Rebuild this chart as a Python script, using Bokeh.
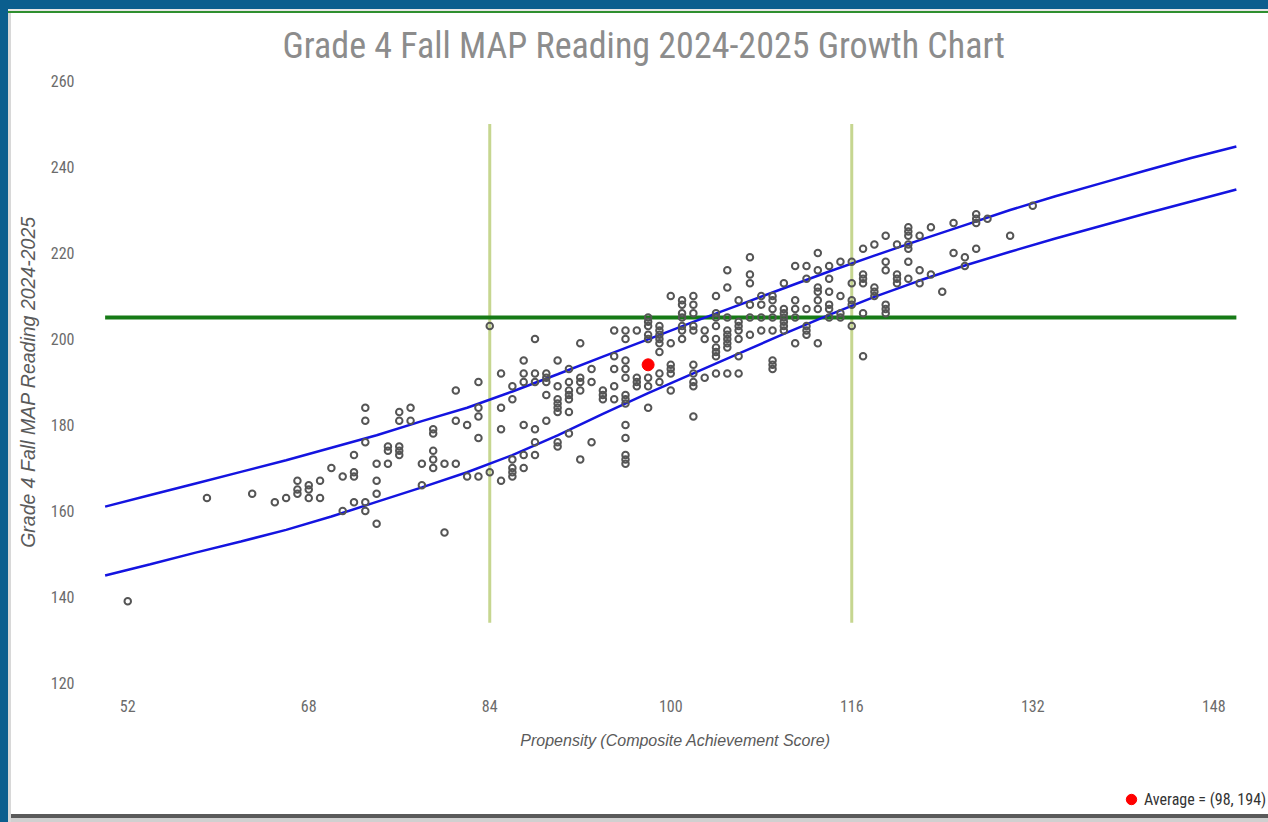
from bokeh.plotting import figure
from bokeh.models import Range1d, FixedTicker, Legend, LegendItem
from bokeh.layouts import column
from bokeh.embed import file_html
from bokeh.resources import INLINE

# ---------------- data ----------------
title_text = "Grade 4 Fall MAP Reading 2024-2025 Growth Chart"
x_label = "Propensity (Composite Achievement Score)"
y_label = "Grade 4 Fall MAP Reading 2024-2025"

x_ticks = [52, 68, 84, 100, 116, 132, 148]
y_ticks = [120, 140, 160, 180, 200, 220, 240, 260]

# student scores: propensity column -> list of MAP reading scores
score_cols = [52, 59, 63, 65, 66, 67, 68, 69, 70, 71, 72, 73, 74, 75, 76, 77, 78, 79,
              80, 81, 82, 83, 84, 85, 86, 87, 88, 89, 90, 91, 92, 93, 94, 95, 96, 97,
              98, 99, 100, 101, 102, 103, 104, 105, 106, 107, 108, 109, 110, 111, 112,
              113, 114, 115, 116, 117, 118, 119, 120, 121, 122, 123, 124, 125, 126,
              127, 128, 130, 132]
score_vals = [
    [139], [163], [164], [162], [163], [167, 165, 164], [166, 165, 163], [167, 163],
    [170], [168, 160], [173, 169, 168, 162], [184, 181, 176, 162, 160],
    [171, 167, 164, 157], [175, 174, 171], [183, 181, 175, 174, 173], [184, 181],
    [171, 166], [179, 178, 174, 172, 170], [171, 155], [188, 181, 171], [180, 168],
    [190, 184, 182, 177, 168], [203, 169], [192, 184, 179, 167],
    [189, 186, 172, 170, 169, 168], [195, 192, 190, 180, 173, 170],
    [200, 192, 190, 179, 176, 173], [192, 191, 190, 187, 181],
    [195, 189, 186, 185, 184, 183, 176, 175], [193, 190, 188, 187, 186, 183, 178],
    [199, 191, 190, 188, 172], [193, 190, 176], [188, 187, 186],
    [202, 196, 193, 189, 186],
    [202, 200, 195, 193, 191, 187, 186, 185, 180, 177, 173, 172, 171],
    [202, 191, 190, 189], [205, 204, 203, 201, 200, 191, 189, 184],
    [203, 202, 201, 200, 199, 197, 192, 190], [210, 199, 194, 193, 192, 188],
    [209, 208, 206, 205, 203, 202, 200],
    [210, 208, 206, 203, 202, 194, 192, 190, 189, 182], [202, 200, 191],
    [210, 206, 205, 203, 200, 198, 197, 196, 192],
    [216, 212, 205, 202, 201, 200, 199, 198, 192],
    [209, 204, 203, 202, 200, 196, 192], [219, 215, 213, 208, 205, 201],
    [210, 208, 205, 202], [210, 209, 207, 205, 202, 195, 194, 193],
    [213, 207, 206, 205, 204, 203, 202], [217, 209, 207, 205, 199],
    [217, 214, 207, 203, 202, 201], [220, 216, 212, 211, 209, 207, 199],
    [217, 214, 211, 208, 207, 205], [218, 210, 206, 205], [218, 213, 209, 208, 203],
    [221, 215, 214, 213, 206, 196], [222, 212, 211, 210],
    [224, 218, 216, 208, 207, 206], [222, 215, 214, 213],
    [226, 225, 224, 222, 221, 218, 214], [224, 216, 213], [226, 215], [211],
    [227, 220], [219, 217], [229, 228, 227, 221], [228], [224], [231],
]

avg_x = 98
avg_y = 194

# growth band curves
curve_x = [50, 54, 58, 62, 66, 70, 74, 78, 82, 86, 90, 94, 98, 102, 106, 110, 114,
           118, 122, 126, 130, 134, 138, 142, 146, 150]
upper_y = [161.0, 163.7, 166.4, 169.1, 171.8, 174.7, 177.6, 180.9, 184.0, 187.8,
           191.8, 195.9, 199.9, 204.0, 207.9, 211.8, 215.7, 219.4, 223.0, 226.5,
           230.0, 233.2, 236.2, 239.2, 242.1, 244.8]
lower_y = [145.0, 147.6, 150.3, 152.9, 155.6, 158.7, 162.1, 165.5, 169.0, 173.0,
           177.6, 182.6, 187.4, 192.0, 196.6, 201.2, 205.6, 209.8, 213.6, 217.1,
           220.3, 223.4, 226.3, 229.2, 232.0, 234.8]

target_y = 205
target_x = [50, 150]
cut_x = [84, 116]
cut_y0 = 134
cut_y1 = 250

# ---------------- plot ----------------
xs, ys = [], []
for cx, col in zip(score_cols, score_vals):
    for v in col:
        xs.append(cx)
        ys.append(v)

COND = "Liberation Sans Narrow, Roboto Condensed, Roboto"
BLUE_FRAME = "#0b5e8e"

fig = figure(width=1268, height=782, output_backend="svg", toolbar_location=None,
             x_range=Range1d(48, 152.84), y_range=Range1d(118, 262),
             min_border_left=82, min_border_right=0, min_border_top=72,
             min_border_bottom=91)
fig.background_fill_color = "white"
fig.border_fill_color = "white"
fig.border_fill_alpha = 0
fig.outline_line_color = None
fig.xgrid.visible = False
fig.ygrid.visible = False
fig.styles = {
    "background-color": "white",
    "box-shadow": (f"inset 8px 9px 0 0 {BLUE_FRAME}, inset 0 11px 0 0 #e6e6e6, "
                   "inset 0 13px 0 0 #2f8f2f, inset 11px 0 0 0 #d8d8d8"),
}

fig.title.text = title_text
fig.title.align = "left"
fig.title.offset = 200
fig.title.standoff = 12
fig.title.text_font = COND
fig.title.text_font_size = "36px"
fig.title.text_font_style = "normal"
fig.title.text_color = "#8c8c8c"

for ax in (fig.xaxis[0], fig.yaxis[0]):
    ax.axis_line_color = None
    ax.major_tick_line_color = None
    ax.minor_tick_line_color = None
    ax.major_tick_out = 0
    ax.major_tick_in = 0
    ax.major_label_text_font = COND
    ax.major_label_text_font_size = "16px"
    ax.major_label_text_color = "#6b6b6b"
    ax.axis_label_text_font = "Liberation Sans"
    ax.axis_label_text_font_style = "italic"
    ax.axis_label_text_color = "#5a5a5a"

fig.xaxis[0].ticker = FixedTicker(ticks=x_ticks)
fig.yaxis[0].ticker = FixedTicker(ticks=y_ticks)
fig.xaxis[0].axis_label = x_label
fig.yaxis[0].axis_label = y_label
fig.xaxis[0].axis_label_text_font_size = "16px"
fig.yaxis[0].axis_label_text_font_size = "19.5px"
fig.xaxis[0].major_label_standoff = 8
fig.yaxis[0].major_label_standoff = 8
fig.xaxis[0].axis_label_standoff = 17
fig.yaxis[0].axis_label_standoff = 9

# reference lines
fig.segment(x0=cut_x, y0=[cut_y0] * len(cut_x), x1=cut_x, y1=[cut_y1] * len(cut_x),
            line_color="#c6d690", line_width=3)
fig.line(target_x, [target_y, target_y], line_color="#167a16", line_width=4)

# growth curves
fig.line(curve_x, upper_y, line_color="#1414e0", line_width=2.5)
fig.line(curve_x, lower_y, line_color="#1414e0", line_width=2.5)

# students
fig.scatter(xs, ys, marker="circle", size=6.5, fill_alpha=0, line_color="#555555",
            line_width=2)

# average
fig.scatter([avg_x], [avg_y], marker="circle", size=12, fill_color="#ff0000",
            line_color="#ff0000")

# ---------------- legend strip ----------------
leg = figure(width=1268, height=40, output_backend="svg", toolbar_location=None,
             x_range=Range1d(0, 1), y_range=Range1d(0, 1),
             min_border_left=0, min_border_right=0, min_border_top=0,
             min_border_bottom=0, x_axis_type=None, y_axis_type=None)
leg.background_fill_alpha = 0
leg.border_fill_alpha = 0
leg.outline_line_color = None
leg.xgrid.visible = False
leg.ygrid.visible = False
leg.styles = {
    "background-color": "white",
    "box-shadow": (f"inset 8px 0 0 0 {BLUE_FRAME}, inset 11px 0 0 0 #d8d8d8, "
                   "inset 0 -4px 0 0 #d0d0d0, inset 0 -8px 0 0 #5a5a5a"),
}
# legend entry glyph (the average point, outside this strip's view range)
avg_r = leg.scatter([avg_x], [avg_y], marker="circle", size=12, fill_color="#ff0000",
                    line_color="#ff0000")
legend = Legend(items=[LegendItem(label=f"Average = ({avg_x}, {avg_y})",
                                  renderers=[avg_r])],
                location=(1036, 10), orientation="horizontal",
                padding=0, margin=0, spacing=0, glyph_width=26, glyph_height=26,
                label_standoff=-4, label_height=16,
                background_fill_alpha=0, border_line_alpha=0,
                label_text_font=COND, label_text_font_size="16px",
                label_text_color="#333333")
leg.add_layout(legend, "center")

p = column(fig, leg, spacing=0)

open("out.html", "w").write(file_html(p, INLINE))
